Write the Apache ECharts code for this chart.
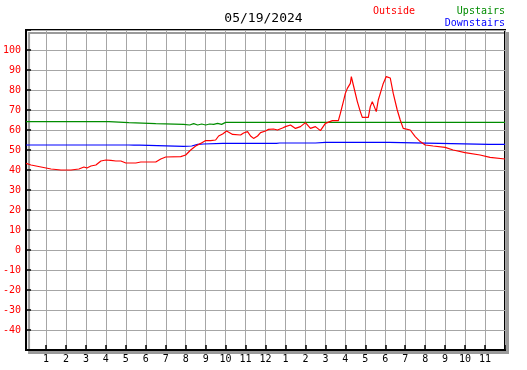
<!DOCTYPE html>
<html>
<head>
<meta charset="utf-8">
<script src="https://cdn.jsdelivr.net/npm/echarts@6/dist/echarts.min.js"></script>
<style>
  html, body { margin: 0; padding: 0; background: #fff; }
  #chart { width: 527px; height: 370px; }
</style>
</head>
<body>
<div id="chart"></div>
<script>
// hours since midnight, temperature in °F
const outsideHours = [0, 0.25, 0.75, 1.25, 1.75, 2.25, 2.65, 2.9, 3.05, 3.25, 3.5, 3.75, 4.0, 4.25, 4.5, 4.75, 5.0, 5.5, 5.75, 6.25, 6.5, 6.75, 7.0, 7.75, 8.0, 8.25, 8.5, 8.75, 9.0, 9.25, 9.5, 9.65, 9.85, 10.05, 10.15, 10.35, 10.75, 10.9, 11.1, 11.25, 11.4, 11.6, 11.75, 12.0, 12.15, 12.4, 12.6, 12.85, 13.0, 13.25, 13.5, 13.75, 14.0, 14.25, 14.5, 14.75, 15.0, 15.35, 15.65, 15.75, 15.9, 16.0, 16.1, 16.25, 16.3, 16.4, 16.6, 16.75, 16.85, 17.15, 17.25, 17.35, 17.45, 17.55, 17.65, 17.75, 17.9, 18.05, 18.25, 18.4, 18.6, 18.75, 18.9, 19.25, 19.5, 19.75, 20.0, 20.4, 21.0, 21.4, 22.0, 22.75, 23.25, 24.0];
const outsideTemps = [43.3, 42.5, 41.5, 40.5, 40.0, 40.0, 40.5, 41.5, 41.0, 42.0, 42.5, 44.5, 45.0, 44.8, 44.5, 44.5, 43.5, 43.5, 44.0, 44.0, 44.0, 45.5, 46.5, 46.7, 47.5, 50.0, 52.0, 53.3, 54.7, 54.7, 55.0, 57.0, 58.0, 59.5, 60.3, 57.8, 57.5, 58.5, 59.2, 57.0, 55.8, 57.0, 58.7, 59.5, 60.3, 60.5, 60.0, 61.0, 61.7, 62.5, 60.8, 61.7, 63.7, 60.8, 61.7, 59.7, 63.3, 64.7, 64.7, 68.3, 74.2, 78.3, 80.8, 83.3, 86.7, 82.5, 74.2, 69.2, 66.3, 66.3, 71.7, 74.2, 74.2, 69.2, 75.0, 78.3, 83.3, 86.7, 86.0, 78.3, 70.0, 65.0, 60.8, 60.0, 56.7, 54.2, 52.5, 52.0, 51.3, 50.0, 48.7, 47.5, 46.3, 45.5];

const upstairsHours = [0, 4.15, 4.2, 5.15, 5.2, 6.5, 6.55, 7.9, 8.0, 8.2, 8.4, 8.6, 8.8, 9.0, 9.2, 9.4, 9.6, 9.8, 10.0, 20.9, 21.0, 21.1, 24.0];
const upstairsTemps = [64.2, 64.2, 63.7, 63.7, 63.2, 63.2, 62.7, 62.8, 63.0, 62.5, 63.2, 62.5, 63.0, 62.5, 63.0, 62.8, 63.3, 62.8, 63.8, 63.8, 63.3, 63.8, 63.8];

const downstairsHours = [0, 5.15, 5.2, 5.4, 5.5, 5.7, 5.8, 7.9, 8.3, 8.6, 8.9, 9.85, 9.9, 9.95, 10.1, 10.15, 10.2, 12.55, 12.6, 12.7, 13.3, 13.35, 13.4, 14.5, 14.6, 15.0, 15.05, 15.1, 16.6, 16.65, 16.9, 16.95, 18.2, 18.3, 23.2, 23.25, 23.3, 24.0];
const downstairsTemps = [52.5, 52.5, 52.0, 52.4, 52.0, 52.4, 52.0, 51.8, 52.0, 52.8, 53.0, 53.3, 54.2, 53.3, 53.3, 54.2, 53.3, 53.3, 54.2, 53.5, 53.5, 54.2, 53.5, 53.5, 53.8, 53.8, 54.3, 53.8, 53.8, 54.3, 53.8, 54.3, 53.8, 52.8, 52.8, 53.3, 52.8, 52.8];

const chartTitle = '05/19/2024';
const mono = 'DejaVu Sans Mono';

const pairs = (xs, ys) => xs.map((x, i) => [x, ys[i]]);

const hourLabel = (h) => {
  if (h <= 0 || h >= 24) return '';
  if (h <= 12) return String(h);
  return String(h - 12);
};

const legendBase = {
  padding: 0,
  icon: 'none', itemWidth: 0, itemHeight: 10,
  selectedMode: false,
  textStyle: { fontFamily: mono, fontSize: 10 }
};

const chart = echarts.init(document.getElementById('chart'));

chart.setOption({
  animation: false,
  backgroundColor: '#fff',
  title: {
    text: chartTitle,
    left: 'center',
    top: 12,
    padding: 0,
    textStyle: { fontFamily: mono, fontSize: 13, fontWeight: 'normal', color: '#000' }
  },
  legend: [
    Object.assign({}, legendBase, {
      data: [{ name: 'Outside', textStyle: { color: '#ff0000' } }],
      left: 368, top: 6
    }),
    Object.assign({}, legendBase, {
      data: [{ name: 'Upstairs', textStyle: { color: '#008c00' } }],
      right: 22, top: 6
    }),
    Object.assign({}, legendBase, {
      data: [{ name: 'Downstairs', textStyle: { color: '#0000ff' } }],
      right: 22, top: 18
    })
  ],
  grid: {
    show: true,
    left: 25, top: 30, width: 480, height: 320,
    backgroundColor: '#fff',
    borderColor: '#000',
    borderWidth: 2,
    shadowColor: '#9a9a9a',
    shadowBlur: 0,
    shadowOffsetX: 3,
    shadowOffsetY: 3
  },
  xAxis: {
    type: 'value',
    min: 0, max: 24, interval: 1,
    axisLine: { show: true, onZero: false, lineStyle: { color: '#000', width: 2 } },
    axisTick: { show: true, inside: true, length: 5, lineStyle: { color: '#000', width: 1.5 } },
    axisLabel: {
      margin: 4,
      fontFamily: mono, fontSize: 10, color: '#000',
      formatter: hourLabel
    },
    splitLine: { show: true, lineStyle: { color: '#a6a6a6', width: 1 } }
  },
  yAxis: {
    type: 'value',
    min: -50, max: 110, interval: 10,
    axisLine: { show: true, onZero: false, lineStyle: { color: '#000', width: 2 } },
    axisTick: { show: true, inside: true, length: 5, lineStyle: { color: '#000', width: 1.5 } },
    axisLabel: {
      margin: 5,
      fontFamily: mono, fontSize: 10, color: '#ff0000',
      formatter: (v) => (v >= 110 || v <= -50) ? '' : String(v)
    },
    splitLine: { show: true, lineStyle: { color: '#a6a6a6', width: 1 } }
  },
  series: [
    {
      name: 'Outside', type: 'line', showSymbol: false,
      data: pairs(outsideHours, outsideTemps),
      itemStyle: { color: '#ff0000' },
      lineStyle: { color: '#ff0000', width: 1.2 },
      z: 4
    },
    {
      name: 'Upstairs', type: 'line', showSymbol: false,
      data: pairs(upstairsHours, upstairsTemps),
      itemStyle: { color: '#008c00' },
      lineStyle: { color: '#008c00', width: 1.2 },
      z: 3
    },
    {
      name: 'Downstairs', type: 'line', showSymbol: false,
      data: pairs(downstairsHours, downstairsTemps),
      itemStyle: { color: '#0000ff' },
      lineStyle: { color: '#0000ff', width: 1.2 },
      z: 3
    }
  ]
});
</script>
</body>
</html>
